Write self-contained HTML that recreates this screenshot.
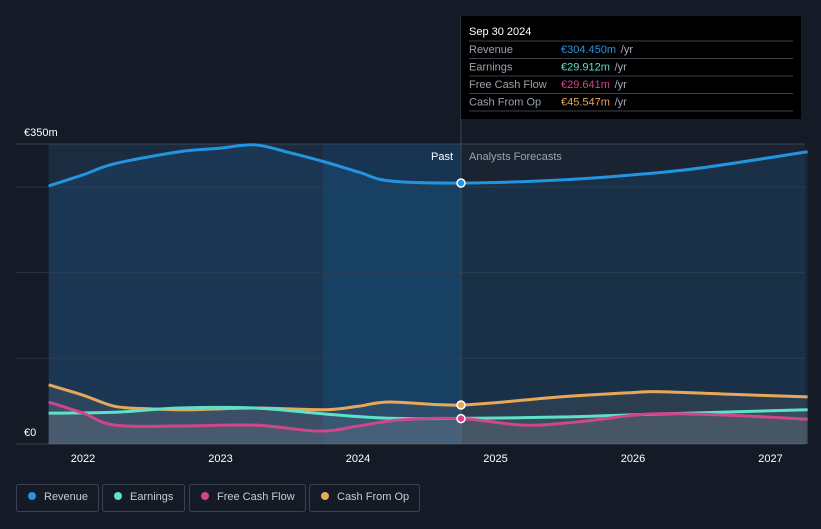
<!DOCTYPE html>
<html><head><meta charset="utf-8"><style>
body{margin:0;background:#151b26;font-family:"Liberation Sans",sans-serif;}
svg text{font-family:"Liberation Sans",sans-serif;}
</style></head><body>
<svg id="c" width="821" height="524">
<rect width="821" height="524" fill="#151b26"/>
</svg>
<script>
const years=[2021.75,2022,2022.23,2022.7,2022.99,2023.25,2023.5,2023.76,2024.01,2024.23,2024.75,2025.47,2026,2026.49,2027.27];
const revenue=[301,314,327,341,345,349,340,329,317,307,304.45,308,314,322,341];
const cfoT=[2021.75,2022,2022.23,2022.49,2022.78,2023.25,2023.76,2024,2024.23,2024.75,2025.47,2026,2026.2,2026.71,2027.27];
const cfo=[69,57,44,41,40,42,40,44,49,45.5,55,60,61,58,55];
const earnT=[2021.75,2022.23,2022.7,2023.25,2023.76,2024.23,2024.75,2025.47,2026,2027.27];
const earnings=[36,37,42,42,35,30,29.9,31.5,34,40];
const fcfT=[2021.75,2022,2022.23,2022.7,2023.25,2023.72,2024,2024.3,2024.75,2025.21,2025.61,2026.12,2026.63,2027.27];
const fcf=[49,36,22,21,22,15,21,28,29.6,22,26,35,34,29];
const yTicks=[0,350];const xTicks=[2022,2023,2024,2025,2026,2027];
const X=t=>83+(t-2022)*137.5, Y=v=>444-v*300/350;
const s=document.getElementById('c'),NS='http://www.w3.org/2000/svg';
function el(tag,a,p){const e=document.createElementNS(NS,tag);for(const k in a)e.setAttribute(k,a[k]);(p||s).appendChild(e);return e;}
function path(ts,vs){const P=ts.map((t,i)=>[X(t),Y(vs[i])]);let d='M'+P[0];for(let i=0;i<P.length-1;i++){const p0=P[i-1]||P[i],p1=P[i],p2=P[i+1],p3=P[i+2]||p2;d+=` C${p1[0]+(p2[0]-p0[0])/6},${p1[1]+(p2[1]-p0[1])/6} ${p2[0]-(p3[0]-p1[0])/6},${p2[1]-(p3[1]-p1[1])/6} ${p2[0]},${p2[1]}`;}return d;}
let r=el('rect',{x:X(2021.75),y:144,width:X(2024.75)-X(2021.75),height:300,fill:'#1b2b40'});

r=el('rect',{x:323,y:144,width:X(2024.75)-323,height:300,fill:'#173553'});

r=el('rect',{x:X(2024.75),y:144,width:805-X(2024.75),height:300,fill:'#1a2332'});

[100,200,300].forEach(v=>{const g=el('line',{x1:16,x2:805,y1:Y(v),y2:Y(v),stroke:'#2a3442'});});
el('line',{x1:16,x2:805,y1:144,y2:144,stroke:'#3a4452'});
el('line',{x1:16,x2:805,y1:444,y2:444,stroke:'#3a4452'});
el('line',{x1:461,x2:461,y1:16,y2:444,stroke:'#3a4452'});
const series=[[years,revenue,'#2394df','revenue-line'],[cfoT,cfo,'#e8a85a','cash-from-op-line'],[earnT,earnings,'#5fe0c8','earnings-line'],[fcfT,fcf,'#d0468a','free-cash-flow-line']];
series.forEach(([t,v,c,n])=>{const d=path(t,v);
 const a=el('path',{d:d+` L${X(t[t.length-1])},444 L${X(t[0])},444 Z`,fill:n=='revenue-line'?'rgba(35,148,223,0.12)':'rgba(160,160,160,0.13)'});
});
series.forEach(([t,v,c,n])=>{const p=el('path',{d:path(t,v),fill:'none',stroke:c,'stroke-width':3});});
[[304.45,'#2394df'],[45.5,'#e8a85a'],[29.6,'#d0468a']].forEach(([v,c])=>{const m=el('circle',{cx:461,cy:Y(v),r:4,fill:c,stroke:'#fff','stroke-width':1.5});});
function txt(x,y,t,a){const e=el('text',Object.assign({x,y,'font-size':11,fill:'#fff'},a||{}));e.textContent=t;return e;}
yTicks.forEach(v=>{const e=txt(24,v?136:436,v?'€350m':'€0');});
xTicks.forEach(y=>{const e=txt(X(y),462,y,{'text-anchor':'middle'});});
let e=txt(453,160,'Past',{'text-anchor':'end'});
e=txt(469,160,'Analysts Forecasts',{fill:'#9aa3ae'});
const tg=el('g',{});
el('rect',{x:461,y:16,width:340,height:103,fill:'#000'},tg);
const tt=el('text',{x:469,y:35,'font-size':11,fill:'#fff'},tg);tt.textContent='Sep 30 2024';
const rows=[['Revenue','€304.450m','#2394df'],['Earnings','€29.912m','#5fe0c8'],['Free Cash Flow','€29.641m','#d0468a'],['Cash From Op','€45.547m','#e8a85a']];
rows.forEach((rw,i)=>{const y=53+i*17.5;el('line',{x1:469,x2:793,y1:y-12,y2:y-12,stroke:'#3a3f48'},tg);
 let a=el('text',{x:469,y,'font-size':11,fill:'#9aa3ae'},tg);a.textContent=rw[0];
 a=el('text',{x:561,y,'font-size':11,fill:rw[2]},tg);a.textContent=rw[1];
 const w=rw[1].length*6.2;a=el('text',{x:561+w+4,y,'font-size':11,fill:'#aab'},tg);a.textContent='/yr';});
el('line',{x1:469,x2:793,y1:111,y2:111,stroke:'#3a3f48'},tg);
const leg=[['Revenue','#2394df',16,82],['Earnings','#5fe0c8',102,82],['Free Cash Flow','#d0468a',189,116],['Cash From Op','#e8a85a',309,110]];
leg.forEach(([n,c,x,w])=>{const g=el('g',{});
 el('rect',{x:x+0.5,y:484.5,width:w,height:27,rx:2,fill:'none',stroke:'#3a4250'},g);
 el('circle',{cx:x+16,cy:496,r:4,fill:c},g);
 const t=el('text',{x:x+28,y:500,'font-size':11,fill:'#c8ccd2'},g);t.textContent=n;});
</script>
</body></html>
